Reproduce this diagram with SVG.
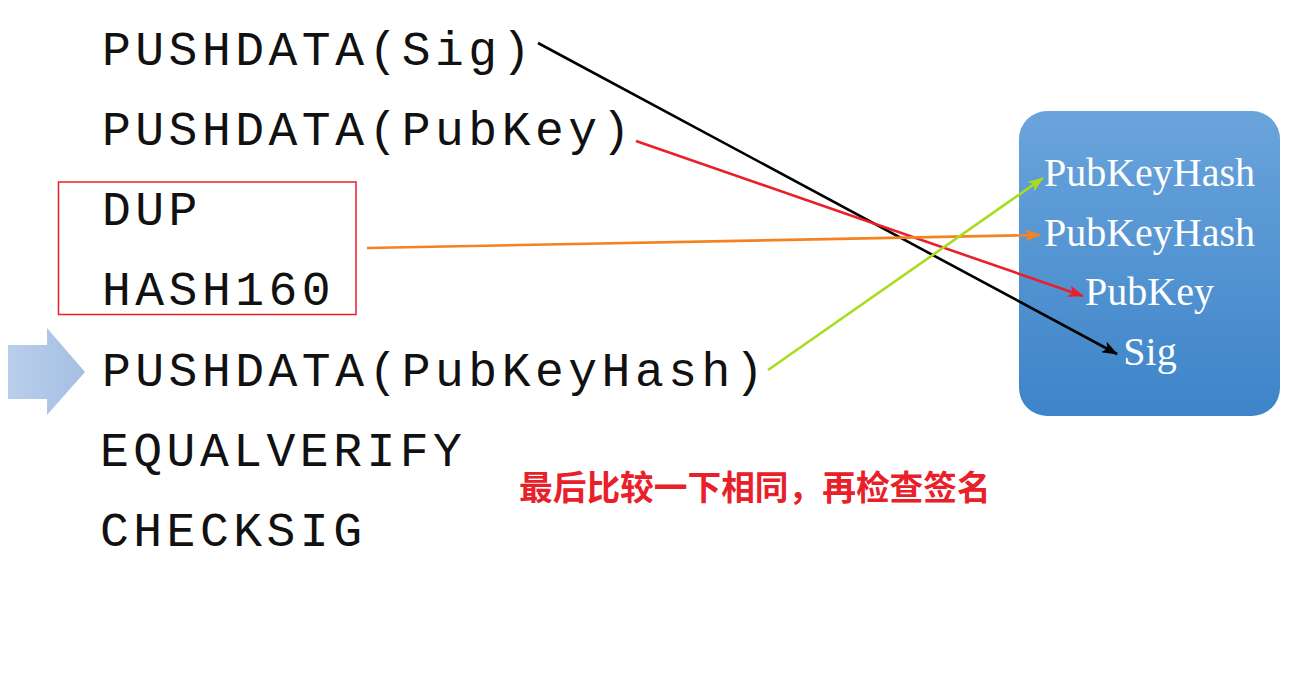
<svg xmlns="http://www.w3.org/2000/svg" width="1289" height="697" viewBox="0 0 1289 697">
<defs>
<style>
.op{font-family:"Liberation Mono","Courier New",monospace;font-size:48px;letter-spacing:4.5px;fill:#111}
.st{font-family:"Liberation Serif","Times New Roman",serif;font-size:40px;fill:#ffffff;text-anchor:middle}
.cn{font-family:"Liberation Sans","Noto Sans CJK SC",sans-serif;font-size:33.7px;font-weight:bold;fill:#e8202a}
.ln{fill:none;stroke-width:2.6}
</style>
<linearGradient id="gBox" x1="0" y1="0" x2="0" y2="1">
<stop offset="0" stop-color="#6aa4dc"/>
<stop offset="1" stop-color="#3d84c8"/>
</linearGradient>
<linearGradient id="gArr" x1="0" y1="0" x2="1" y2="0">
<stop offset="0" stop-color="#b9cfeb"/>
<stop offset="1" stop-color="#a5bfe3"/>
</linearGradient>
<marker id="mK" viewBox="0 0 16 12" refX="15" refY="6" markerWidth="16" markerHeight="12" markerUnits="userSpaceOnUse" orient="auto"><path d="M0,0 L16,6 L0,12 L4,6 Z" fill="#000"/></marker>
<marker id="mR" viewBox="0 0 16 12" refX="15" refY="6" markerWidth="16" markerHeight="12" markerUnits="userSpaceOnUse" orient="auto"><path d="M0,0 L16,6 L0,12 L4,6 Z" fill="#e8202a"/></marker>
<marker id="mO" viewBox="0 0 16 12" refX="15" refY="6" markerWidth="16" markerHeight="12" markerUnits="userSpaceOnUse" orient="auto"><path d="M0,0 L16,6 L0,12 L4,6 Z" fill="#f58220"/></marker>
<marker id="mG" viewBox="0 0 16 12" refX="15" refY="6" markerWidth="16" markerHeight="12" markerUnits="userSpaceOnUse" orient="auto"><path d="M0,0 L16,6 L0,12 L4,6 Z" fill="#a8dc1c"/></marker>
</defs>
<rect width="1289" height="697" fill="#ffffff"/>
<g id="script">
<text class="op" x="102" y="65">PUSHDATA(Sig)</text>
<text class="op" x="102" y="145">PUSHDATA(PubKey)</text>
<text class="op" x="102" y="225">DUP</text>
<text class="op" x="102" y="305">HASH160</text>
<text class="op" x="102" y="386">PUSHDATA(PubKeyHash)</text>
<text class="op" x="100" y="466">EQUALVERIFY</text>
<text class="op" x="100" y="546">CHECKSIG</text>
</g>
<g id="highlight-box">
<rect x="58.5" y="182" width="297.5" height="132.5" fill="none" stroke="#e8202a" stroke-width="1.5"/>
</g>
<g id="pointer">
<path d="M8,345 L47,345 L47,328 L85,372 L47,415 L47,399 L8,399 Z" fill="url(#gArr)"/>
</g>
<g id="stack">
<rect x="1019" y="111" width="261" height="305" rx="28" ry="28" fill="url(#gBox)"/>
<text class="st" x="1149.5" y="186">PubKeyHash</text>
<text class="st" x="1149.5" y="246">PubKeyHash</text>
<text class="st" x="1149.5" y="305">PubKey</text>
<text class="st" x="1150" y="365">Sig</text>
</g>
<g id="connectors">
<line class="ln" x1="538" y1="43" x2="1117" y2="354" stroke="#000" marker-end="url(#mK)"/>
<line class="ln" x1="636" y1="141" x2="1083" y2="296" stroke="#e8202a" marker-end="url(#mR)"/>
<line class="ln" x1="367" y1="248" x2="1040" y2="235" stroke="#f58220" marker-end="url(#mO)"/>
<line class="ln" x1="768" y1="370" x2="1043" y2="178" stroke="#a8dc1c" marker-end="url(#mG)"/>
</g>
<g id="note">
<text class="cn" x="519" y="500">最后比较一下相同，再检查签名</text>
</g>
</svg>
